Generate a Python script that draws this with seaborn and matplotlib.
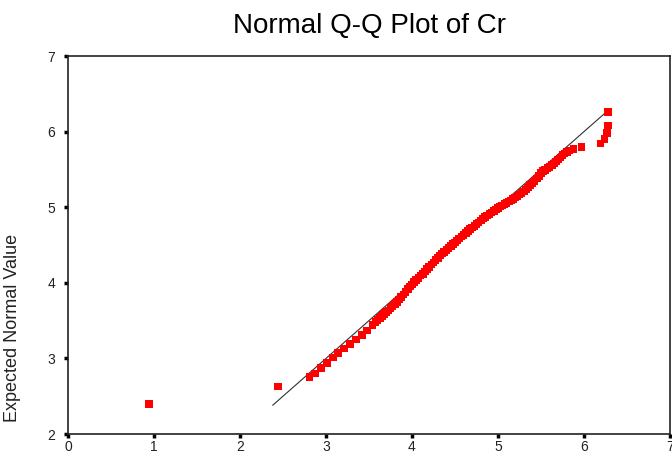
import matplotlib
matplotlib.use("Agg")
import matplotlib.pyplot as plt
import seaborn as sns
import pandas as pd

observed = [0.94, 2.44,
            2.81, 2.87, 2.94, 3.01, 3.08, 3.14, 3.21, 3.28, 3.35, 3.42,
            3.48, 3.54, 3.575,
            3.600, 3.625, 3.650, 3.675, 3.700, 3.725, 3.750, 3.775, 3.800, 3.825,
            3.850, 3.875, 3.900, 3.925, 3.950, 3.975, 4.000, 4.025, 4.050, 4.075,
            4.100, 4.125, 4.150, 4.175, 4.200, 4.225, 4.250, 4.275, 4.300, 4.325,
            4.350, 4.375, 4.400, 4.425, 4.450, 4.475, 4.500, 4.525, 4.550, 4.575,
            4.600, 4.625, 4.650, 4.675, 4.700, 4.725, 4.750, 4.775, 4.800, 4.825,
            4.850, 4.875, 4.900, 4.925, 4.950, 4.975, 5.000, 5.025, 5.050, 5.075,
            5.100, 5.125, 5.150, 5.175, 5.200, 5.225, 5.250, 5.275, 5.300, 5.325,
            5.350, 5.375, 5.400, 5.425, 5.450, 5.475, 5.500, 5.525, 5.550, 5.575,
            5.600, 5.625, 5.650, 5.675, 5.700, 5.725, 5.750, 5.775, 5.800, 5.830,
            5.880, 5.97, 6.19, 6.24, 6.27, 6.28, 6.28]
expected = [2.40, 2.63,
            2.75, 2.80, 2.87, 2.94, 3.01, 3.07, 3.13, 3.19, 3.25, 3.31,
            3.37, 3.44, 3.48,
            3.510, 3.535, 3.560, 3.585, 3.610, 3.635, 3.665, 3.690, 3.720, 3.750,
            3.780, 3.810, 3.845, 3.880, 3.915, 3.950, 3.980, 4.010, 4.035, 4.065,
            4.095, 4.120, 4.150, 4.180, 4.210, 4.240, 4.270, 4.300, 4.330, 4.360,
            4.385, 4.410, 4.435, 4.460, 4.485, 4.510, 4.535, 4.560, 4.585, 4.610,
            4.635, 4.660, 4.685, 4.710, 4.730, 4.755, 4.775, 4.800, 4.825, 4.850,
            4.870, 4.890, 4.910, 4.930, 4.950, 4.970, 4.990, 5.010, 5.025, 5.040,
            5.055, 5.075, 5.090, 5.110, 5.130, 5.150, 5.170, 5.190, 5.210, 5.235,
            5.260, 5.290, 5.320, 5.350, 5.380, 5.410, 5.450, 5.475, 5.495, 5.515,
            5.535, 5.555, 5.580, 5.605, 5.630, 5.660, 5.690, 5.710, 5.730, 5.750,
            5.770, 5.80, 5.84, 5.90, 5.98, 6.08, 6.26]

line_x = [2.38, 6.26]
line_y = [2.38, 6.26]

x_ticks = [0, 1, 2, 3, 4, 5, 6, 7]
y_ticks = [2, 3, 4, 5, 6, 7]

sns.set_style("ticks")
plt.rcParams['font.family'] = ['Liberation Sans', 'DejaVu Sans']

fig = plt.figure(figsize=(6.72, 4.54), dpi=100)
ax = fig.add_axes([68/672, 20/454, 602/672, 378/454])

pts = pd.DataFrame({"observed": observed, "expected": expected})
ln = pd.DataFrame({"x": line_x, "y": line_y})

sns.lineplot(data=ln, x="x", y="y", color="#303030", linewidth=0.8, ax=ax)
sns.scatterplot(data=pts, x="observed", y="expected", marker="s", s=30,
                color="#ff0000", edgecolor="none", linewidth=0, ax=ax, zorder=3)

ax.set_xlim(0, 7)
ax.set_ylim(2, 7)
ax.set_xticks(x_ticks)
ax.set_yticks(y_ticks)
ax.set_xticklabels([str(t) for t in x_ticks])
ax.set_yticklabels([str(t) for t in y_ticks])

ax.set_xlabel("")
ax.set_ylabel("Expected Normal Value", fontsize=13, color="#222222")
ax.yaxis.set_label_coords(-0.078, 0.28)

for sp in ax.spines.values():
    sp.set_visible(True)
    sp.set_color("#222222")
    sp.set_linewidth(1.2)

ax.tick_params(axis="both", which="major", direction="out", length=3, width=2.5,
               color="black", labelsize=10, labelcolor="#222222",
               bottom=True, left=True, top=False, right=False)
ax.tick_params(axis="x", pad=1.5)
ax.tick_params(axis="y", pad=6)

fig.text(369/672, 1 - 26/454, "Normal Q-Q Plot of Cr", ha="center", va="center",
         fontsize=20, color="black")

fig.savefig("out.png", dpi=100, facecolor="white")
